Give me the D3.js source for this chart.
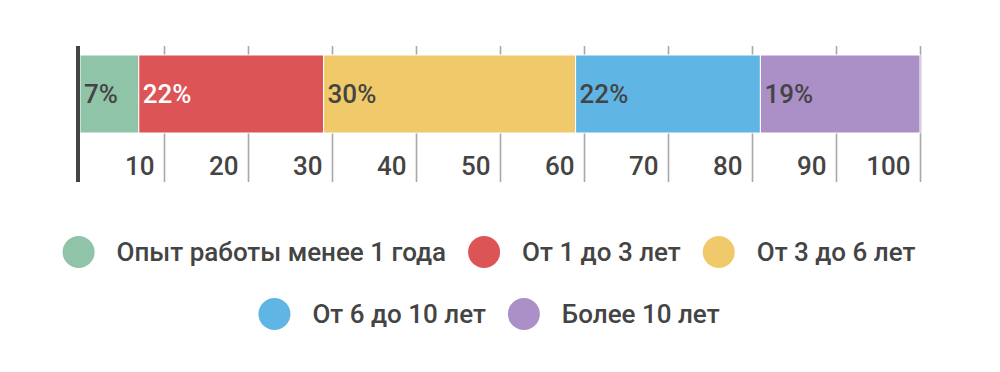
<!DOCTYPE html>
<html>
<head>
<meta charset="utf-8">
<script src="https://cdn.jsdelivr.net/npm/d3@7"></script>
<style>
  body { margin: 0; background: #fff; }
  svg { font-family: Roboto, "Noto Sans", sans-serif; font-weight: 500; }
</style>
</head>
<body>
<svg id="chart" width="1000" height="372"></svg>
<script>
const categories = ['Опыт работы менее 1 года', 'От 1 до 3 лет', 'От 3 до 6 лет', 'От 6 до 10 лет', 'Более 10 лет'];
const shares = [7, 22, 30, 22, 19];
const colors = ['#8fc4a9', '#dd5457', '#f0ca6a', '#5fb6e5', '#ab90c7'];
const labelColors = ['#444', '#fff', '#444', '#444', '#444'];
const tickValues = [10, 20, 30, 40, 50, 60, 70, 80, 90, 100];

const svg = d3.select('#chart');
const x = d3.scaleLinear().domain([0, 100]).range([80, 920]);
const gridTop = 46, gridBottom = 182;
const barTop = 55, barBottom = 133;

// stacked segments
let acc = 0;
const segments = shares.map((v, i) => {
  const s = { start: acc, end: acc + v, value: v, i };
  acc += v;
  return s;
});

// grid + tick labels
const xAxis = d3.axisBottom(x)
  .tickValues(tickValues)
  .tickSize(-(gridBottom - gridTop))
  .tickFormat(d3.format('d'));

const axisG = svg.append('g')
  .attr('transform', `translate(0,${gridBottom})`)
  .call(xAxis);
axisG.select('.domain').remove();
axisG.selectAll('.tick line').attr('stroke', '#a8a8a8').attr('stroke-width', 1.6);
axisG.selectAll('.tick text')
  .attr('text-anchor', 'end')
  .attr('x', -10)
  .attr('y', -7)
  .attr('dy', 0)
  .attr('fill', '#444')
  .style('font-size', '26px')
  .style('font-weight', 500)
  .style('font-family', 'Roboto, sans-serif');

// bars
svg.append('g').selectAll('rect')
  .data(segments)
  .join('rect')
  .attr('x', d => x(d.start))
  .attr('y', barTop)
  .attr('width', d => x(d.end) - x(d.start))
  .attr('height', barBottom - barTop)
  .attr('fill', d => colors[d.i])
  .attr('stroke', '#fff')
  .attr('stroke-width', 1);

svg.append('g').selectAll('text')
  .data(segments)
  .join('text')
  .attr('x', d => x(d.start) + 4)
  .attr('y', (barTop + barBottom) / 2 + 9)
  .attr('fill', d => labelColors[d.i])
  .style('font-size', '26px')
  .text(d => d.value + '%');

// y axis line
svg.append('line')
  .attr('x1', 78).attr('x2', 78)
  .attr('y1', gridTop).attr('y2', gridBottom)
  .attr('stroke', '#444').attr('stroke-width', 4);

// legend
const legend = svg.append('g');
const items = legend.selectAll('g')
  .data(categories)
  .join('g');
items.append('circle')
  .attr('cx', 16).attr('cy', 0).attr('r', 16)
  .attr('fill', (d, i) => colors[i]);
items.append('text')
  .attr('x', 54).attr('y', 9)
  .attr('fill', '#444')
  .style('font-size', '26px')
  .text(d => d);

const maxRow = 900;
const rows = [[]];
let rowW = 0;
items.each(function () {
  const w = 54 + this.querySelector('text').getComputedTextLength() + 22;
  if (rowW + w > maxRow && rows[rows.length - 1].length) {
    rows.push([]);
    rowW = 0;
  }
  rows[rows.length - 1].push({ node: this, w });
  rowW += w;
});
rows.forEach((row, r) => {
  const total = d3.sum(row, d => d.w);
  let cx = 500 - total / 2;
  row.forEach(d => {
    d3.select(d.node).attr('transform', `translate(${cx},${252 + r * 62})`);
    cx += d.w;
  });
});
</script>
</body>
</html>
